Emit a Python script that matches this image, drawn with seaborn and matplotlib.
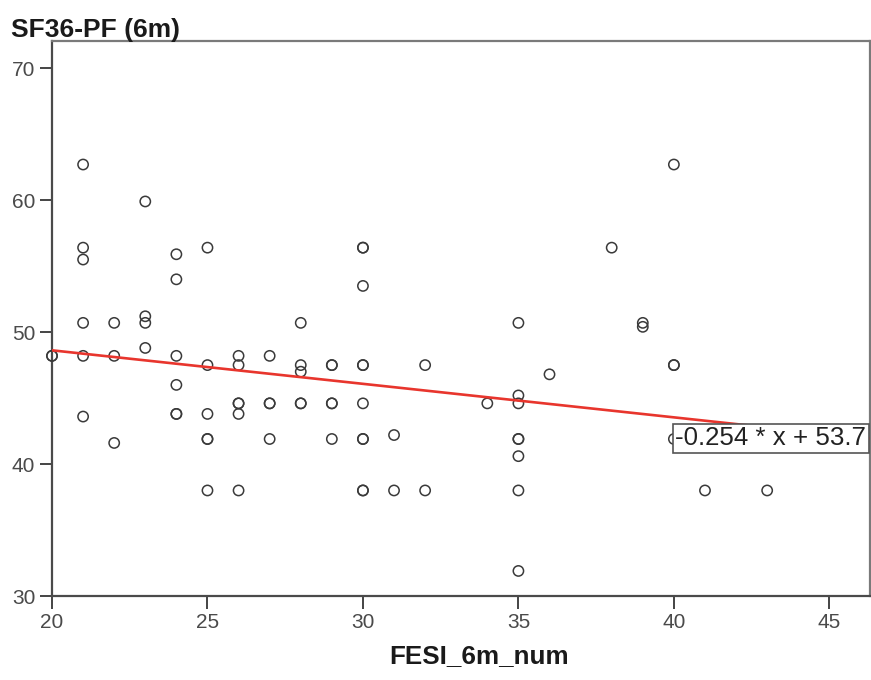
import numpy as np
import pandas as pd
import matplotlib
matplotlib.use("Agg")
import matplotlib.pyplot as plt
import seaborn as sns

# Datos (FESI a 6 meses vs SF36-PF a 6 meses)
fesi = [20, 20,
        21, 21, 21, 21, 21, 21,
        22, 22, 22,
        23, 23, 23, 23,
        24, 24, 24, 24, 24, 24,
        25, 25, 25, 25, 25, 25,
        26, 26, 26, 26, 26, 26,
        27, 27, 27, 27,
        28, 28, 28, 28, 28,
        29, 29, 29, 29, 29,
        30, 30, 30, 30, 30, 30, 30, 30, 30, 30,
        31, 31,
        32, 32,
        34,
        35, 35, 35, 35, 35, 35, 35, 35,
        36,
        38,
        39, 39,
        40, 40, 40, 40,
        41,
        43]
sf36_pf = [48.2, 48.2,
           62.7, 56.4, 55.5, 50.7, 48.2, 43.6,
           50.7, 48.2, 41.6,
           59.9, 51.2, 50.7, 48.8,
           55.9, 54.0, 48.2, 46.0, 43.8, 43.8,
           56.4, 47.5, 43.8, 41.9, 41.9, 38.0,
           48.2, 47.5, 44.6, 44.6, 43.8, 38.0,
           48.2, 44.6, 44.6, 41.9,
           50.7, 47.5, 47.0, 44.6, 44.6,
           47.5, 47.5, 44.6, 44.6, 41.9,
           56.4, 56.4, 53.5, 47.5, 47.5, 44.6, 41.9, 41.9, 38.0, 38.0,
           42.2, 38.0,
           47.5, 38.0,
           44.6,
           50.7, 45.2, 44.6, 41.9, 41.9, 40.6, 38.0, 31.9,
           46.8,
           56.4,
           50.7, 50.4,
           62.7, 47.5, 47.5, 41.9,
           38.0,
           38.0]

# Recta de ajuste según la etiqueta del gráfico
slope = -0.254
intercept = 53.7
x_ticks = [20, 25, 30, 35, 40, 45]
y_ticks = [30, 40, 50, 60, 70]

df = pd.DataFrame({"FESI_6m_num": fesi, "SF36-PF (6m)": sf36_pf})

sns.set_style("white")
plt.rcParams['font.family'] = ['Liberation Sans', 'DejaVu Sans']

fig = plt.figure(figsize=(8.71, 6.8), dpi=100)
ax = fig.add_axes([0.0597, 0.1235, 0.9389, 0.816])

sns.scatterplot(data=df, x="FESI_6m_num", y="SF36-PF (6m)", ax=ax,
                marker="o", s=55, facecolor="none", edgecolor="#3a3a3a",
                linewidth=1.1, zorder=3, clip_on=False)

xlim = (20, 46.3)
ylim = (30, 72.05)
xs = np.array(xlim)
ax.plot(xs, slope * xs + intercept, color="#e8352d", lw=1.9, zorder=4)

ax.text(40.05, 41.95, f"{slope} * x + {intercept}", fontsize=18.6, color="#222222",
        va="center", ha="left", zorder=5, clip_on=True,
        bbox=dict(boxstyle="square,pad=0.1", facecolor="white",
                  edgecolor="#555555", linewidth=1.2))

ax.set_xlim(*xlim)
ax.set_ylim(*ylim)
ax.set_xticks(x_ticks)
ax.set_yticks(y_ticks)
ax.tick_params(axis="both", direction="out", length=9, width=1.4,
               color="#444444", labelsize=15, labelcolor="#4a4a4a", pad=3,
               left=True, bottom=True)

for side in ["left", "bottom"]:
    ax.spines[side].set_color("#4a4a4a")
    ax.spines[side].set_linewidth(1.6)
for side in ["top", "right"]:
    ax.spines[side].set_color("#7a7a7a")
    ax.spines[side].set_linewidth(1.6)

ax.set_xlabel("")
ax.set_ylabel("")
fig.text(0.55, 0.036, "FESI_6m_num", fontsize=18.7, fontweight="bold",
         ha="center", va="center", color="#1a1a1a")
fig.text(0.013, 0.956, "SF36-PF (6m)", fontsize=19, fontweight="bold",
         ha="left", va="center", color="#1a1a1a")

fig.savefig("out.png", dpi=100)
